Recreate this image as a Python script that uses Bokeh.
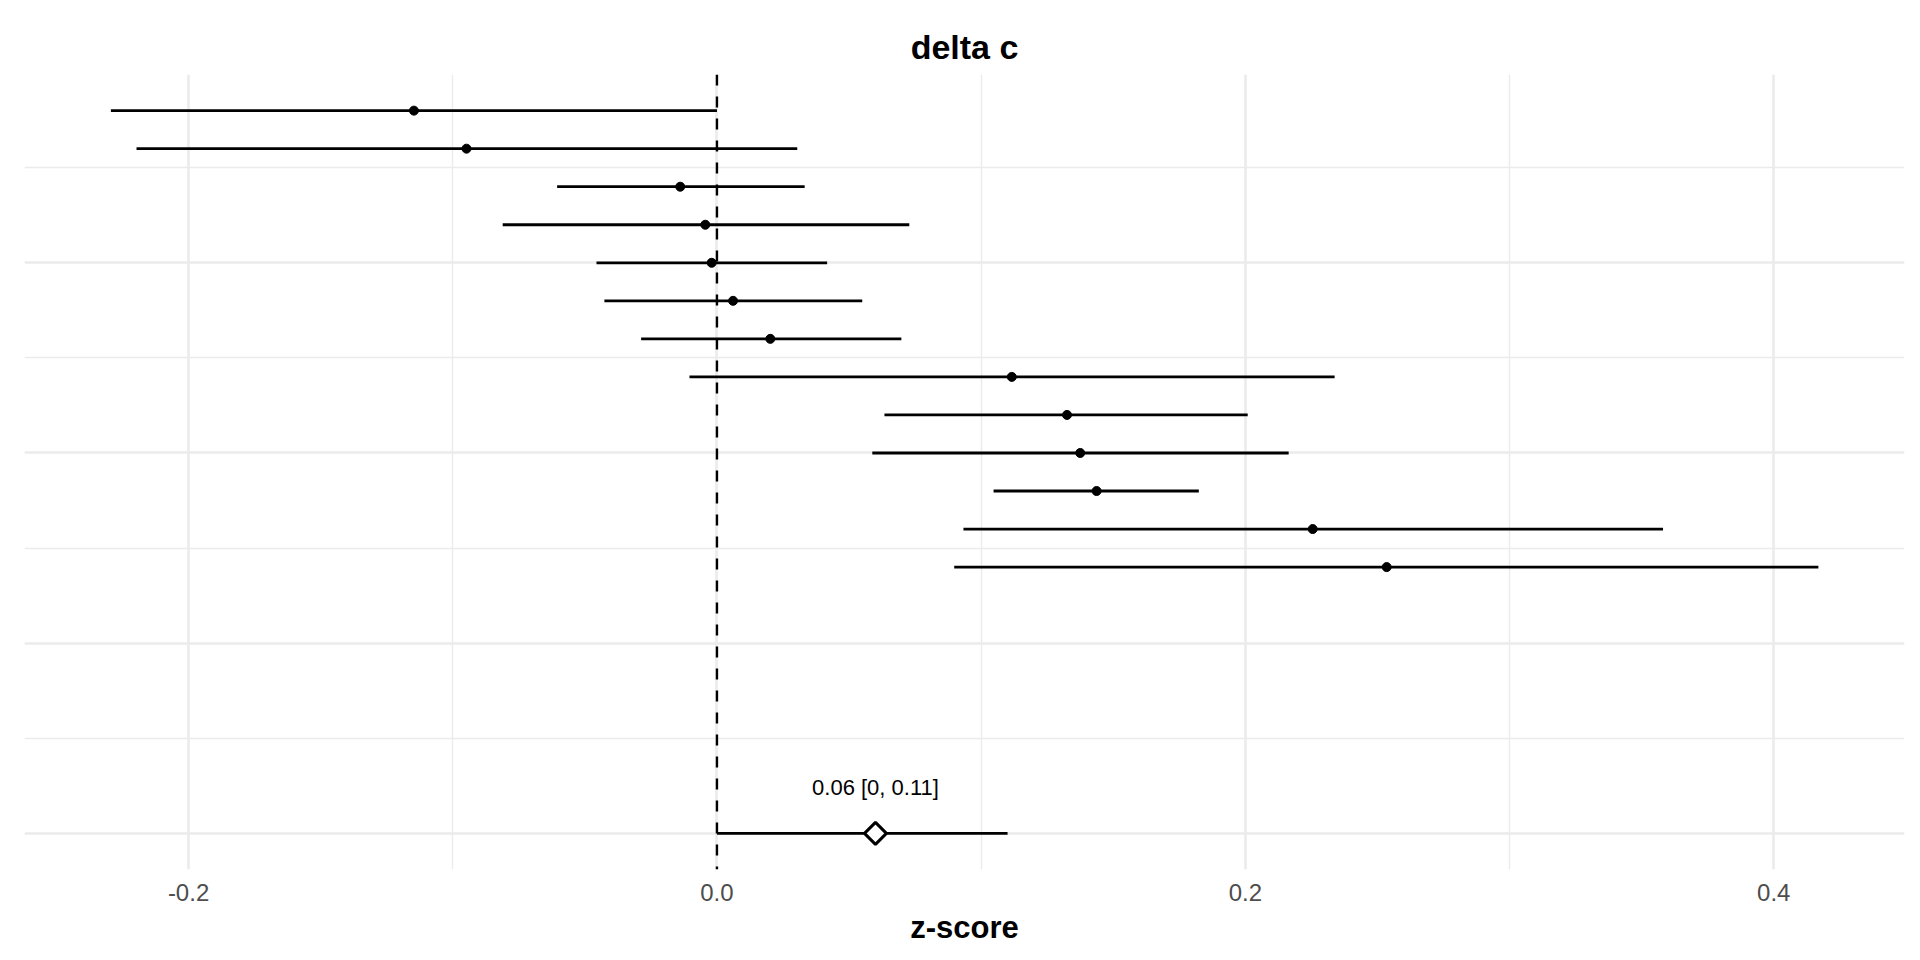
from bokeh.plotting import figure
from bokeh.models import FixedTicker, Span, ColumnDataSource, Range1d
from bokeh.core.properties import value
from bokeh.embed import file_html
from bokeh.resources import INLINE

# ---- data ----
est = [-0.1147, -0.0948, -0.0139, -0.0044, -0.0020, 0.0061, 0.0202,
       0.1116, 0.1325, 0.1375, 0.1437, 0.2255, 0.2535]
lower = [-0.2294, -0.2197, -0.0605, -0.0811, -0.0456, -0.0426, -0.0287,
         -0.0104, 0.0634, 0.0588, 0.1047, 0.0933, 0.0898]
upper = [0.0000, 0.0304, 0.0332, 0.0728, 0.0417, 0.0550, 0.0698,
         0.2338, 0.2009, 0.2164, 0.1824, 0.3581, 0.4169]
summary_est = 0.06
summary_lower = 0.0
summary_upper = 0.11
x_ticks = [-0.2, 0.0, 0.2, 0.4]
x_tick_labels = ["-0.2", "0.0", "0.2", "0.4"]
title_text = "delta c"
x_label = "z-score"

# layout of rows: studies stacked from top, summary at 0
n = len(est)
top_row = 19
rows = [top_row - i for i in range(n)]
summary_row = 0

FONT = "Liberation Sans"

p = figure(width=1912, height=952, output_backend="svg", toolbar_location=None,
           x_range=Range1d(-0.2621, 0.4495), y_range=Range1d(-0.95, 19.95),
           min_border_left=24, min_border_right=8, min_border_top=74,
           min_border_bottom=83)
p.outline_line_color = None
p.background_fill_color = "white"
p.border_fill_color = "white"

# title
p.title.text = title_text
p.title.align = "center"
p.title.text_font = FONT
p.title.text_font_size = "34px"
p.title.text_font_style = "bold"
p.title.text_color = "#000000"
p.title.standoff = 18

# x axis
p.xaxis.ticker = FixedTicker(ticks=x_ticks, minor_ticks=[-0.1, 0.1, 0.3])
p.xaxis.major_label_overrides = {t: l for t, l in zip(x_ticks, x_tick_labels)}
p.xaxis.axis_line_color = None
p.xaxis.major_tick_line_color = None
p.xaxis.minor_tick_line_color = None
p.xaxis.major_label_text_font = FONT
p.xaxis.major_label_text_font_size = "24px"
p.xaxis.major_label_text_color = "#4D4D4D"
p.xaxis.major_label_standoff = 8
p.xaxis.axis_label = x_label
p.xaxis.axis_label_text_font = FONT
p.xaxis.axis_label_text_font_size = "31px"
p.xaxis.axis_label_text_font_style = "bold"
p.xaxis.axis_label_text_color = "#000000"
p.xaxis.axis_label_standoff = 6

p.yaxis.visible = False

# grids
p.xgrid.ticker = FixedTicker(ticks=x_ticks, minor_ticks=[-0.1, 0.1, 0.3])
p.xgrid.grid_line_color = "#EBEBEB"
p.xgrid.grid_line_width = 2.6
p.xgrid.minor_grid_line_color = "#EBEBEB"
p.xgrid.minor_grid_line_width = 1.4
p.ygrid.ticker = FixedTicker(ticks=[0, 5, 10, 15], minor_ticks=[2.5, 7.5, 12.5, 17.5])
p.ygrid.grid_line_color = "#EBEBEB"
p.ygrid.grid_line_width = 2.6
p.ygrid.minor_grid_line_color = "#EBEBEB"
p.ygrid.minor_grid_line_width = 1.4

# reference line at 0
p.add_layout(Span(location=0, dimension="height", line_color="black",
                  line_width=2.4, line_dash="11 11", level="underlay"))

src = ColumnDataSource(dict(y=rows, est=est, lo=lower, hi=upper))
p.segment(x0="lo", x1="hi", y0="y", y1="y", source=src,
          line_color="black", line_width=2.8)
p.scatter(x="est", y="y", source=src, size=9, marker="circle",
          fill_color="black", line_color="black")

ssrc = ColumnDataSource(dict(y=[summary_row], est=[summary_est],
                             lo=[summary_lower], hi=[summary_upper],
                             ty=[summary_row + 1],
                             label=[f"{summary_est:g} [{summary_lower:g}, {summary_upper:g}]"]))
p.segment(x0="lo", x1="hi", y0="y", y1="y", source=ssrc,
          line_color="black", line_width=2.8)
p.scatter(x="est", y="y", source=ssrc, size=15.5, marker="square", angle=0.785398,
          fill_color="white", line_color="black", line_width=3)
p.text(x="est", y="ty", text="label", source=ssrc, text_align="center",
       text_baseline="alphabetic", y_offset=-8, text_font=value(FONT),
       text_font_size="22px", text_color="black")

open("out.html", "w").write(file_html(p, INLINE))
